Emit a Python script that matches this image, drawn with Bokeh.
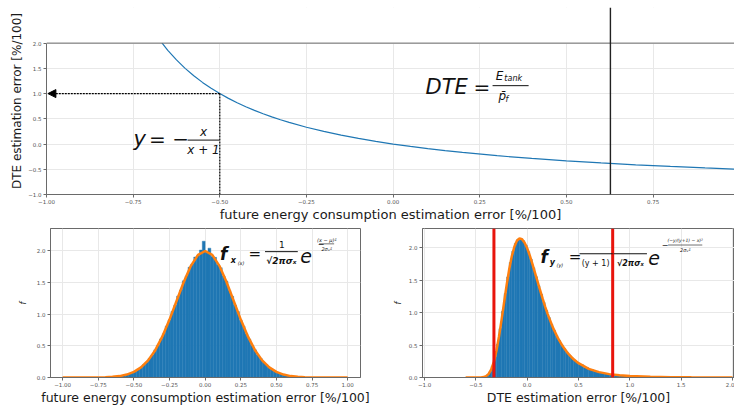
from bokeh.plotting import figure
from bokeh.layouts import column, row
from bokeh.models import Range1d, FixedTicker, Span, BoxAnnotation, Label, Arrow, NormalHead
from bokeh.embed import file_html
from bokeh.resources import INLINE

# ---------------- data ----------------
# top: DTE error y = -x/(x+1) vs future energy consumption error x
map_x = [-0.667, -0.65, -0.625, -0.6, -0.575, -0.55, -0.525, -0.5, -0.475, -0.45, -0.425, -0.4,
         -0.375, -0.35, -0.325, -0.3, -0.25, -0.2, -0.15, -0.1, -0.05, 0.0, 0.05, 0.1, 0.15, 0.2,
         0.3, 0.4, 0.5, 0.6, 0.7, 0.8, 0.9, 1.0]
map_y = [2.003, 1.857, 1.667, 1.5, 1.353, 1.222, 1.105, 1.0, 0.905, 0.818, 0.739, 0.667,
         0.6, 0.538, 0.481, 0.429, 0.333, 0.25, 0.176, 0.111, 0.053, 0.0, -0.048, -0.091, -0.130, -0.167,
         -0.231, -0.286, -0.333, -0.375, -0.412, -0.444, -0.474, -0.5]
marked_x = -0.5
marked_y = 1.0
dte_marker_x = 0.627

top_xticks = [-1.0, -0.75, -0.5, -0.25, 0.0, 0.25, 0.5, 0.75, 1.0]
top_xtick_labels = ["−1.00", "−0.75", "−0.50", "−0.25", "0.00", "0.25", "0.50", "0.75", "1.00"]
top_yticks = [-1.0, -0.5, 0.0, 0.5, 1.0, 1.5, 2.0]
top_ytick_labels = ["−1.0", "−0.5", "0.0", "0.5", "1.0", "1.5", "2.0"]

# bottom left: histogram of x and normal pdf
fx_bin_start = -0.70
fx_bin_width = 0.02
fx_density = [0.005, 0.008, 0.010, 0.013, 0.020, 0.025, 0.035, 0.047, 0.058, 0.079, 0.097, 0.128,
              0.157, 0.201, 0.240, 0.302, 0.355, 0.436, 0.505, 0.608, 0.690, 0.810, 0.905, 1.040,
              1.140, 1.285, 1.380, 1.525, 1.600, 1.740, 1.790, 1.900, 1.920, 2.010, 2.150,
              1.980, 2.040, 1.910, 1.895, 1.780, 1.730, 1.600, 1.520, 1.375, 1.280, 1.140, 1.040,
              0.900, 0.810, 0.690, 0.605, 0.505, 0.436, 0.355, 0.302, 0.240, 0.201, 0.155, 0.128,
              0.097, 0.079, 0.058, 0.047, 0.033, 0.026, 0.018, 0.014, 0.010, 0.007, 0.005]
fx_curve_x = [-1.0, -0.95, -0.9, -0.85, -0.8, -0.75, -0.7, -0.65, -0.6, -0.55, -0.5, -0.45, -0.4,
              -0.35, -0.3, -0.25, -0.2, -0.15, -0.1, -0.05, 0.0, 0.05, 0.1, 0.15, 0.2, 0.25, 0.3,
              0.35, 0.4, 0.45, 0.5, 0.55, 0.6, 0.65, 0.7, 0.75, 0.8, 0.85, 0.9, 0.95, 1.0]
fx_curve_y = [0.0, 0.0, 0.0001, 0.0002, 0.0007, 0.0018, 0.004, 0.010, 0.022, 0.046, 0.088, 0.159, 0.270,
              0.431, 0.648, 0.913, 1.210, 1.506, 1.761, 1.934, 1.995, 1.934, 1.761, 1.506, 1.210, 0.913, 0.648,
              0.431, 0.270, 0.159, 0.088, 0.046, 0.022, 0.010, 0.004, 0.0018, 0.0007, 0.0002, 0.0001, 0.0, 0.0]
fx_xticks = [-1.0, -0.75, -0.5, -0.25, 0.0, 0.25, 0.5, 0.75, 1.0]
fx_xtick_labels = ["−1.00", "−0.75", "−0.50", "−0.25", "0.00", "0.25", "0.50", "0.75", "1.00"]
dens_yticks = [0.0, 0.5, 1.0, 1.5, 2.0]
dens_ytick_labels = ["0.0", "0.5", "1.0", "1.5", "2.0"]

# bottom right: histogram of DTE error and transformed pdf
fy_fine_start = -0.45
fy_fine_width = 0.025
fy_fine_count = 38
fy_coarse_width = 0.05
fy_density = [0.003, 0.012, 0.036, 0.086, 0.178, 0.318, 0.513, 0.755, 1.022, 1.295, 1.553, 1.775,
              1.950, 2.070, 2.135, 2.145, 2.112, 2.042, 1.942, 1.824, 1.693, 1.556, 1.418, 1.285,
              1.157, 1.036, 0.925, 0.822, 0.729, 0.646, 0.571, 0.504, 0.444, 0.391, 0.345, 0.304,
              0.268, 0.236,
              0.196, 0.152, 0.119, 0.094, 0.074, 0.058, 0.047, 0.037, 0.030, 0.024, 0.020, 0.017,
              0.014, 0.011, 0.0095, 0.008, 0.0065, 0.0055, 0.0047, 0.004]
fy_curve_x = [-0.6, -0.5, -0.475, -0.45, -0.425, -0.4, -0.375, -0.35, -0.325, -0.3, -0.275, -0.25,
              -0.225, -0.2, -0.175, -0.15, -0.125, -0.1, -0.075, -0.05, -0.025, 0.0, 0.025, 0.05,
              0.075, 0.1, 0.125, 0.15, 0.175, 0.2, 0.25, 0.3, 0.35, 0.4, 0.45, 0.5, 0.6, 0.7, 0.8,
              0.9, 1.0, 1.2, 1.4, 1.6, 1.8, 2.0]
fy_curve_y = [0.0, 0.0, 0.0003, 0.0015, 0.0065, 0.0213, 0.0567, 0.126, 0.241, 0.410, 0.629, 0.885,
              1.158, 1.427, 1.670, 1.871, 2.019, 2.111, 2.148, 2.135, 2.081, 1.995, 1.885, 1.759,
              1.624, 1.487, 1.351, 1.220, 1.095, 0.979, 0.774, 0.607, 0.473, 0.367, 0.285, 0.221,
              0.134, 0.083, 0.052, 0.033, 0.022, 0.010, 0.005, 0.0026, 0.0014, 0.0009]
fy_bounds = [-0.324, 0.833]
fy_xticks = [-1.0, -0.5, 0.0, 0.5, 1.0, 1.5, 2.0]
fy_xtick_labels = ["−1.0", "−0.5", "0.0", "0.5", "1.0", "1.5", "2.0"]

# ---------------- styling helpers ----------------
FONT = "DejaVu Sans"
BLUE = "#1f77b4"
ORANGE = "#ff7f0e"
RED = "#e8140c"
AX = "#6a6a6a"


def style(p, xt, xl, yt, yl, xlabel, ylabel, xsize, ysize, ystyle, ystand, xstand):
    p.xaxis.ticker = FixedTicker(ticks=xt)
    p.yaxis.ticker = FixedTicker(ticks=yt)
    p.xgrid.ticker = FixedTicker(ticks=xt)
    p.ygrid.ticker = FixedTicker(ticks=yt)
    p.xaxis.major_label_overrides = dict(zip(xt, xl))
    p.yaxis.major_label_overrides = dict(zip(yt, yl))
    p.xaxis.axis_label = xlabel
    p.yaxis.axis_label = ylabel
    p.xaxis.axis_label_text_font_size = xsize
    p.yaxis.axis_label_text_font_size = ysize
    p.yaxis.axis_label_text_font_style = ystyle
    p.xaxis.axis_label_text_font_style = "normal"
    p.xaxis.axis_label_standoff = xstand
    p.yaxis.axis_label_standoff = ystand
    for ax in (p.xaxis[0], p.yaxis[0]):
        ax.axis_label_text_font = FONT
        ax.axis_label_text_color = "#1a1a1a"
        ax.major_label_text_font = FONT
        ax.major_label_text_font_size = "5.5px"
        ax.major_label_text_color = "#555555"
        ax.major_label_standoff = 2
        ax.major_tick_out = 3
        ax.major_tick_in = 0
        ax.minor_tick_out = 0
        ax.minor_tick_in = 0
        ax.axis_line_color = AX
        ax.major_tick_line_color = AX
    p.xaxis.major_label_standoff = 1
    p.grid.grid_line_color = "#e8e8e8"
    p.grid.grid_line_width = 1
    p.background_fill_color = "white"
    p.border_fill_color = "white"


def lab(p, x, y, text, size, fstyle="normal", align="left", baseline="middle"):
    p.add_layout(Label(x=x, y=y, text=text, text_font=FONT, text_font_size=size,
                       text_font_style=fstyle, text_align=align, text_baseline=baseline,
                       text_color="#111111"))


def bar(p, x0, x1, y, w=1.0):
    p.add_layout(Arrow(end=None, x_start=x0, y_start=y, x_end=x1, y_end=y,
                       line_color="#111111", line_width=w))


# ---------------- top figure ----------------
top = figure(width=734, height=224, x_range=Range1d(-1.0, 0.985), y_range=Range1d(-1.0, 2.706),
             output_backend="svg", toolbar_location=None,
             min_border_left=46, min_border_right=0, min_border_top=7, min_border_bottom=28)
top.outline_line_color = None
style(top, top_xticks, top_xtick_labels, top_yticks, top_ytick_labels,
      "future energy consumption estimation error [%/100]", "DTE estimation error [%/100]",
      "13px", "12px", "normal", 1, 0)
top.yaxis.bounds = (-1.0, 2.0)
top.line(map_x, map_y, line_color=BLUE, line_width=1.2)

top.add_layout(BoxAnnotation(bottom=2.0, fill_color="white", fill_alpha=1.0, line_alpha=0))
top.add_layout(Span(location=2.0, dimension="width", line_color=AX, line_width=1))
top.add_layout(Span(location=dte_marker_x, dimension="height", line_color="#222222", line_width=1.4))
top.add_layout(Arrow(end=NormalHead(size=8, fill_color="black", line_color="black", line_width=1),
                     x_start=marked_x, y_start=marked_y, x_end=-0.996, y_end=marked_y,
                     line_color="black", line_width=1.2, line_dash="2 1"))
top.add_layout(Arrow(end=None, x_start=marked_x, y_start=marked_y, x_end=marked_x, y_end=-1.0,
                     line_color="black", line_width=1.2, line_dash="2 1"))

# y = - x / (x + 1)
lab(top, -0.749, 0.098, "y", "21px", "italic")
lab(top, -0.704, 0.098, "= −", "20px")
lab(top, -0.547, 0.245, "x", "12px", "italic", "center")
bar(top, -0.593, -0.501, 0.078)
lab(top, -0.547, -0.110, "x + 1", "12px", "italic", "center")
# DTE = E_tank / p_f
lab(top, 0.0935, 1.137, "DTE", "21px", "italic")
lab(top, 0.232, 1.137, "=", "20px")
lab(top, 0.296, 1.353, "E", "12px", "italic")
lab(top, 0.321, 1.290, "tank", "8px", "italic")
bar(top, 0.287, 0.391, 1.157)
lab(top, 0.304, 0.950, "p\u0304", "12px", "italic")
lab(top, 0.324, 0.890, "f", "8px", "italic")

# ---------------- bottom left ----------------
bl = figure(width=390, height=183, x_range=Range1d(-1.085, 1.09), y_range=Range1d(0.0, 2.35),
            output_backend="svg", toolbar_location=None,
            min_border_left=50, min_border_right=30, min_border_top=4, min_border_bottom=26)
bl.outline_line_color = AX
style(bl, fx_xticks, fx_xtick_labels, dens_yticks, dens_ytick_labels,
      "future energy consumption estimation error [%/100]", "f", "12.5px", "8px", "italic", 6, 0)
fx_left = [fx_bin_start + i * fx_bin_width for i in range(len(fx_density))]
fx_right = [v + fx_bin_width for v in fx_left]
bl.quad(left=fx_left, right=fx_right, bottom=0, top=fx_density,
        fill_color=BLUE, line_color=BLUE, line_width=0.4)
bl.line(fx_curve_x, fx_curve_y, line_color=ORANGE, line_width=2.5)

lab(bl, 0.105, 1.94, "f", "17px", "bold italic")
lab(bl, 0.180, 1.84, "x", "8px", "bold italic")
lab(bl, 0.228, 1.81, "(x)", "5px", "italic")
lab(bl, 0.305, 1.94, "=", "15px")
lab(bl, 0.538, 2.10, "1", "9px", "normal", "center")
bar(bl, 0.42, 0.65, 1.985)
lab(bl, 0.535, 1.83, "√2πσₓ", "9px", "bold italic", "center")
lab(bl, 0.668, 1.92, "e", "19px", "italic")
lab(bl, 0.790, 2.11, "−", "8px")
lab(bl, 0.853, 2.17, "(x − μ)²", "5px", "italic", "center")
bar(bl, 0.800, 0.905, 2.108, 0.6)
lab(bl, 0.853, 2.03, "2σₓ²", "5px", "italic", "center")

# ---------------- bottom right ----------------
br = figure(width=344, height=183, x_range=Range1d(-1.02, 2.02), y_range=Range1d(0.0, 2.3),
            output_backend="svg", toolbar_location=None,
            min_border_left=32, min_border_right=0, min_border_top=4, min_border_bottom=26)
br.outline_line_color = AX
style(br, fy_xticks, fy_xtick_labels, dens_yticks, dens_ytick_labels,
      "DTE estimation error [%/100]", "f", "12.5px", "8px", "italic", 3, 0)
fy_left = [fy_fine_start + i * fy_fine_width for i in range(fy_fine_count)]
fy_coarse_start = fy_fine_start + fy_fine_count * fy_fine_width
fy_left += [fy_coarse_start + i * fy_coarse_width for i in range(len(fy_density) - fy_fine_count)]
fy_right = [v + fy_fine_width for v in fy_left[:fy_fine_count]] + \
           [v + fy_coarse_width for v in fy_left[fy_fine_count:]]
br.quad(left=fy_left, right=fy_right, bottom=0, top=fy_density,
        fill_color=BLUE, line_color=BLUE, line_width=0.4)
br.line(fy_curve_x, fy_curve_y, line_color=ORANGE, line_width=2.5)
for b in fy_bounds:
    br.add_layout(Span(location=b, dimension="height", line_color=RED, line_width=3))

lab(br, 0.130, 1.865, "f", "17px", "bold italic")
lab(br, 0.220, 1.77, "y", "8px", "bold italic")
lab(br, 0.285, 1.74, "(y)", "5px", "italic")
lab(br, 0.405, 1.865, "=", "15px")
bar(br, 0.51, 0.833, 1.91)
lab(br, 0.667, 1.765, "(y + 1)", "8px", "normal", "center")
bar(br, 0.843, 1.167, 1.91)
lab(br, 1.005, 1.765, "√2πσₓ", "8px", "bold italic", "center")
lab(br, 1.180, 1.85, "e", "19px", "italic")
lab(br, 1.310, 2.06, "−", "8px")
lab(br, 1.540, 2.11, "(−y/(y+1) − x)²", "4.5px", "italic", "center")
bar(br, 1.373, 1.706, 2.045, 0.6)
lab(br, 1.540, 1.97, "2σₓ²", "5px", "italic", "center")

layout = column(top, row(bl, br))
open("out.html", "w").write(file_html(layout, INLINE))
